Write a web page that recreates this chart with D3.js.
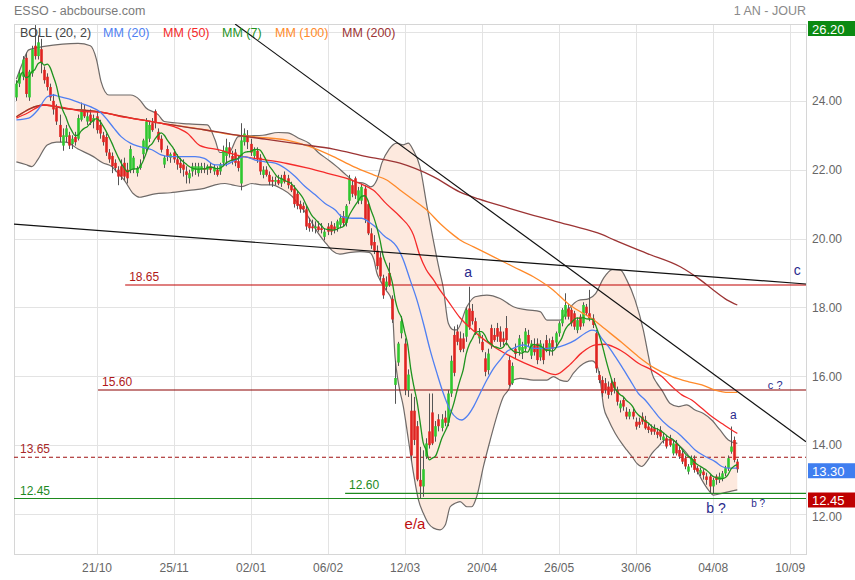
<!DOCTYPE html>
<html><head><meta charset="utf-8">
<script src="https://cdn.jsdelivr.net/npm/d3@7"></script>
<style>
body{margin:0;background:#fff;}
svg{display:block;font-family:"Liberation Sans",Arial,sans-serif;}
</style>
</head><body>
<svg id="c" width="855" height="580"></svg>
<script>
// ---------------- DATA ----------------
const open=[24.1,24.5,24.7,25.25,24.1,24.8,25.6,25.3,25.5,24.9,
24.7,24.4,24.0,23.8,23.3,22.7,22.95,23.0,22.75,22.95,
22.9,23.45,23.75,23.4,23.6,23.4,23.55,23.3,23.0,22.95,
22.5,22.4,22.2,22.0,22.1,22.2,22.0,22.0,22.0,21.9,
22.05,22.45,22.6,22.9,23.35,23.7,23.1,22.9,22.15,22.6,
22.35,22.5,22.3,22.2,22.15,21.95,21.75,21.95,22.0,21.9,
22.0,22.05,22.0,22.1,21.95,22.0,21.95,22.2,22.4,22.65,
22.4,22.5,22.25,21.6,22.8,23.0,22.75,22.4,22.55,22.35,
21.85,22.0,21.85,21.7,21.65,21.7,21.6,21.85,21.75,21.55,
21.45,21.3,21.0,20.95,20.85,20.45,20.35,20.3,20.35,20.3,
20.05,20.35,20.4,20.35,20.3,20.4,20.65,20.45,21.1,21.55,
21.75,21.1,21.1,21.45,21.0,20.15,19.9,19.65,19.45,18.85,
18.6,19.0,18.25,15.75,16.4,17.25,16.95,15.6,15.0,15.0,
14.55,12.99,12.8,13.67,14.4,14.95,14.25,14.75,14.5,14.8,
14.65,15.5,17.2,17.3,17.1,17.1,17.15,17.97,17.9,17.6,
17.1,17.0,16.52,16.18,17.4,17.2,17.4,17.3,17.1,17.4,
16.47,15.8,16.8,16.75,16.7,16.8,17.2,16.6,16.9,16.95,
16.55,16.8,17.05,16.76,17.05,16.98,17.25,17.54,17.73,17.97,
17.93,17.83,17.34,17.73,17.54,18.02,17.83,17.68,17.25,16.04,
15.89,15.8,15.7,15.8,15.84,15.6,15.07,15.31,14.97,14.83,
14.97,14.68,14.68,14.83,14.73,14.54,14.49,14.49,14.39,14.44,
14.15,14.2,14.2,13.76,14.05,13.86,13.76,13.62,13.23,13.42,
13.6,13.33,13.18,13.23,13.09,13.09,12.8,13.09,12.99,13.04,
13.18,13.33,13.81,14.15,13.52];
const high=[24.6,24.9,25.3,25.4,24.9,25.6,26.2,25.9,25.8,25.0,
24.8,24.5,24.2,23.9,23.6,23.2,23.3,23.1,23.0,23.1,
23.6,23.95,23.9,23.7,23.75,23.6,23.7,23.45,23.1,23.05,
22.6,22.5,22.3,22.1,22.3,22.35,22.2,22.7,22.4,22.1,
22.3,22.9,23.5,23.4,23.5,23.75,23.2,23.0,22.4,22.7,
22.5,22.6,22.45,22.35,22.3,22.1,22.0,22.2,22.2,22.2,
22.2,22.2,22.15,22.2,22.15,22.1,22.2,22.7,22.9,22.8,
22.55,22.6,22.4,23.35,23.2,23.15,22.9,22.65,22.65,22.45,
22.1,22.1,21.95,21.8,21.8,21.85,21.85,21.95,21.85,21.65,
21.55,21.4,21.1,21.05,20.95,20.6,20.55,20.5,20.5,20.45,
20.3,20.45,20.5,20.45,20.55,20.7,20.8,21.0,21.85,21.7,
21.8,21.5,21.6,21.55,21.1,20.3,20.1,19.8,19.6,18.95,
18.9,19.3,18.35,16.45,17.0,17.75,17.1,16.2,15.5,15.4,
14.7,13.95,13.85,14.2,15.5,15.5,14.7,14.9,14.9,15.0,
15.6,16.6,17.45,17.5,17.3,17.25,18.0,18.6,18.1,17.7,
17.4,17.2,16.7,16.8,17.5,17.4,17.55,17.45,17.3,17.75,
16.6,16.4,16.95,17.2,17.0,17.4,17.35,17.05,17.1,17.1,
17.05,16.95,17.2,17.1,17.15,17.3,17.6,17.98,18.41,18.1,
18.0,17.9,17.7,17.8,18.15,18.1,18.51,17.8,17.35,16.15,
16.0,15.95,15.85,15.9,15.95,15.7,15.3,15.4,15.1,15.05,
15.05,14.8,14.8,14.95,14.85,14.65,14.6,14.6,14.5,14.55,
14.35,14.3,14.3,14.15,14.15,13.95,13.85,13.7,13.45,13.7,
13.7,13.4,13.35,13.3,13.2,13.15,13.05,13.15,13.2,13.25,
13.4,13.7,14.54,14.25,13.6];
const low=[24.0,24.4,24.6,24.1,24.0,24.7,25.2,25.2,24.8,24.5,
24.3,24.0,23.6,23.3,22.8,22.55,22.8,22.6,22.6,22.7,
22.85,23.4,23.5,23.3,23.3,23.2,23.05,22.9,22.7,22.4,
22.2,21.9,21.95,21.55,21.7,21.7,21.6,21.9,21.9,21.8,
22.0,22.3,22.5,22.8,23.1,23.2,22.8,22.5,22.05,22.25,
22.2,22.2,22.0,21.9,21.8,21.6,21.6,21.8,21.85,21.8,
21.9,21.9,21.85,21.9,21.85,21.8,21.85,22.1,22.1,22.35,
22.15,22.1,21.95,21.4,22.7,22.6,22.4,22.3,22.2,21.85,
21.75,21.8,21.55,21.5,21.55,21.55,21.5,21.6,21.45,21.35,
20.9,20.85,20.75,20.75,20.25,20.2,20.2,20.15,20.2,20.15,
19.95,20.1,20.1,20.15,20.2,20.3,20.35,20.35,21.0,21.2,
21.15,21.0,21.0,20.45,20.1,19.7,19.55,19.1,18.8,18.25,
18.5,18.6,17.55,15.2,16.3,17.1,15.45,15.4,13.55,14.0,
12.95,12.45,12.5,13.6,13.9,14.0,14.1,14.4,14.4,14.55,
14.55,15.4,16.0,16.9,16.7,16.7,17.0,17.35,17.5,17.2,
16.95,16.7,16.0,16.05,16.8,17.0,17.0,16.85,16.9,16.9,
15.7,15.75,16.5,16.6,16.5,16.7,16.85,16.5,16.6,16.35,
16.45,16.35,16.7,16.6,16.6,16.85,17.15,17.45,17.65,17.65,
17.45,17.35,17.25,17.35,17.45,17.75,17.6,17.4,16.1,15.8,
15.4,15.5,15.35,15.45,15.5,15.15,14.95,15.0,14.75,14.75,
14.75,14.45,14.5,14.6,14.45,14.35,14.3,14.3,14.2,14.15,
14.05,13.9,13.95,13.7,13.7,13.6,13.45,13.3,13.15,13.35,
13.2,13.15,13.1,13.0,12.85,12.6,12.6,12.85,12.9,12.95,
13.1,13.25,13.75,13.5,13.2];
const close=[24.5,24.8,25.2,24.2,24.85,25.5,25.3,25.7,25.1,24.6,
24.4,24.1,23.75,23.4,22.95,23.0,23.2,22.7,22.9,22.8,
23.5,23.75,23.55,23.55,23.4,23.5,23.15,23.05,22.8,22.5,
22.3,22.1,22.05,21.8,21.8,21.8,21.75,22.6,22.35,22.05,
22.15,22.85,23.4,23.3,23.15,23.35,22.87,22.58,22.35,22.4,
22.45,22.3,22.15,22.05,22.0,21.85,21.9,22.1,22.1,22.1,
22.1,22.0,22.1,22.0,22.05,21.85,22.15,22.55,22.65,22.45,
22.25,22.2,22.05,22.85,23.05,22.8,22.5,22.6,22.3,21.95,
22.0,21.85,21.65,21.65,21.7,21.6,21.75,21.65,21.55,21.4,
21.0,20.95,20.85,20.85,20.35,20.3,20.3,20.35,20.25,20.25,
20.2,20.2,20.2,20.25,20.5,20.6,20.45,20.95,21.75,21.3,
21.25,21.4,21.5,20.55,20.15,19.8,19.65,19.2,18.9,18.35,
18.75,18.65,17.65,15.95,16.95,17.6,15.6,16.05,13.7,14.15,
13.0,12.8,13.3,14.05,14.0,14.05,14.55,14.55,14.75,14.65,
15.5,16.45,16.1,17.0,16.76,16.8,17.93,17.44,17.6,17.3,
17.25,16.76,16.13,16.66,16.9,17.05,17.15,17.0,17.0,17.05,
15.75,16.3,16.65,17.1,16.85,17.3,16.95,16.95,16.7,16.47,
16.95,16.47,16.76,16.96,16.8,17.25,17.54,17.93,18.07,17.73,
17.54,17.44,17.63,17.44,18.07,17.83,17.68,17.49,16.23,15.89,
15.51,15.6,15.46,15.55,15.65,15.26,15.21,15.12,14.83,14.97,
14.83,14.54,14.59,14.68,14.49,14.44,14.39,14.39,14.3,14.25,
14.25,13.96,14.0,14.05,13.76,13.67,13.52,13.38,13.38,13.62,
13.28,13.23,13.28,13.13,12.99,12.8,12.99,12.99,13.09,13.18,
13.33,13.62,13.96,13.57,13.3];

// indicator readings [day index, value]
const bbUpper=[[0,24.63],[2,25.1],[4,25.48],[9,25.58],[15,25.65],[20,25.67],[24,25.6],[26,25.2],[27.5,24.55],[30,24.17],[37,24.17],[40,24.03],[42,23.8],[46,23.6],[48,23.4],[56,23.33],[62,23.3],[64.5,22.86],[66,22.5],[69,22.5],[72,22.96],[75,22.98],[80,23.0],[85,23.08],[88,23.07],[92,22.9],[95,22.77],[98,22.5],[101,22.3],[104,22.09],[107,21.85],[110,21.65],[113,21.6],[115,21.5],[117,21.7],[118.6,22.19],[121,22.6],[123.5,22.77],[125.5,22.72],[127.2,22.77],[128.8,22.57],[131,22.08],[133.3,20.92],[135.3,19.96],[137.5,19.0],[138.5,18.6],[140.2,17.54],[141.9,17.35],[143,17.35],[146.2,18.02],[148.9,18.31],[152.7,18.36],[157,18.26],[161.3,18.02],[165.7,17.93],[170,17.88],[172.2,17.63],[176.5,17.63],[179.2,17.95],[182.4,18.2],[185.7,18.25],[188,18.4],[190.6,18.85],[193.4,19.1],[196,19.09],[198.1,18.8],[200.8,18.22],[203.5,17.34],[205.2,16.57],[206.3,16.09],[207.9,15.8],[209.5,15.6],[212.2,15.21],[214.9,15.12],[217.6,15.17],[220.3,15.02],[223,14.92],[225.7,14.73],[228.4,14.44],[231.1,14.15],[234,14.05]];
const bbLower=[[0,22.23],[3,22.15],[5,22.09],[7,22.3],[10,22.72],[13,22.8],[16,22.8],[20,22.6],[25,22.38],[28,22.2],[31,22.09],[33,21.9],[35,21.7],[38,21.3],[40,21.2],[45,21.3],[50,21.33],[56,21.4],[61,21.46],[64.5,21.56],[67.7,21.6],[70,21.56],[73.2,21.51],[76.4,21.6],[79.6,21.56],[82.9,21.56],[86,21.45],[89.6,21.22],[91.5,21.0],[93.5,20.8],[96,20.45],[98,20.15],[100.5,19.86],[102.5,19.65],[105,19.55],[108.5,19.6],[111.5,19.62],[114.5,19.6],[116,19.4],[117,19.0],[118,18.8],[120,18.5],[121.8,18.22],[122.9,16.57],[124,15.8],[125.6,15.12],[127.25,14.15],[128.9,13.18],[130.5,12.41],[132.1,12.02],[133.7,11.73],[135.4,11.59],[137.5,11.54],[139.2,11.68],[140.8,12.21],[142.4,12.31],[144,12.36],[146.2,12.21],[147.8,12.21],[149.4,12.5],[151.6,13.38],[153.8,14.15],[155.9,14.83],[158.1,15.41],[159.7,15.6],[161.3,15.89],[163.5,15.94],[167.8,15.89],[172.2,15.89],[174.3,15.99],[176.5,15.89],[178.7,15.85],[180.8,16.09],[183,16.3],[186.8,16.45],[188.5,16.3],[189.5,15.89],[190.6,15.12],[192.2,14.73],[194.4,14.34],[196.5,14.05],[198.1,13.86],[199.8,13.67],[201.4,13.47],[203,13.38],[204.6,13.52],[206.3,13.76],[208.4,13.96],[210.6,14.15],[212.8,14.15],[215.5,13.96],[217.6,13.76],[220.3,13.38],[222.5,12.99],[224.6,12.7],[226.3,12.55],[229,12.6],[234,12.7]];
const mm20=[[0,23.45],[4,23.5],[7,23.74],[10,24.12],[12,24.17],[14,24.12],[18,24.03],[21,23.93],[24,23.83],[27,23.69],[29.5,23.45],[31.7,23.2],[34,22.96],[37,22.77],[40,22.67],[44,22.58],[47,22.43],[50,22.38],[58,22.38],[61,22.33],[64.5,22.14],[67.7,22.14],[71,22.28],[74,22.38],[77.5,22.28],[80.7,22.23],[84,22.19],[87.2,22.04],[90.5,21.8],[93.7,21.51],[97,21.27],[100.2,21.02],[103.5,20.83],[105.6,20.64],[108.9,20.59],[112.1,20.59],[114.3,20.49],[116.4,20.35],[119.7,20.05],[121.3,19.96],[123.5,19.76],[125.6,19.38],[127.8,18.8],[130,18.22],[132.1,17.54],[134.3,16.76],[136.5,16.09],[138.6,15.5],[140.8,15.02],[143,14.78],[144.6,14.73],[146.2,14.83],[148.4,15.12],[150.5,15.5],[152.7,15.89],[154.9,16.23],[157,16.47],[159.2,16.72],[161.3,16.81],[164.6,16.91],[167.8,16.81],[172.2,16.81],[175,16.83],[178.1,16.91],[181.4,17.05],[184.6,17.25],[186.8,17.34],[188.4,17.3],[190,17.1],[192.2,16.86],[194.4,16.57],[196.5,16.28],[199.2,15.89],[201.9,15.5],[204.1,15.31],[206.3,15.07],[208.4,14.83],[211.7,14.54],[214.9,14.34],[218.2,14.05],[220.3,13.86],[223.6,13.67],[226.8,13.52],[229,13.38],[231.1,13.33],[234,13.33]];
const mm50=[[0,23.5],[3.5,23.64],[9,23.88],[15.5,23.8],[22,23.69],[27.4,23.67],[33.9,23.54],[40.3,23.45],[46.8,23.35],[51.2,23.25],[55.5,23.06],[59.6,22.7],[66.1,22.57],[72.6,22.4],[81.3,22.28],[87.8,22.18],[94.3,22.05],[100.7,21.9],[107.2,21.75],[111.5,21.6],[115.9,21.4],[120.2,21.0],[124.5,20.64],[128.9,20.1],[131,19.5],[133,19.1],[135.4,18.8],[137.5,18.5],[140,18.2],[144,17.7],[148,17.35],[152,17.05],[156,16.8],[160,16.6],[165,16.38],[170,16.2],[175,16.05],[179.2,16.3],[183.5,16.68],[187.9,16.91],[191.1,16.93],[194.4,16.83],[197.6,16.67],[201.9,16.38],[206.3,16.18],[209.5,15.99],[212.8,15.7],[216,15.46],[219.2,15.31],[222.5,15.07],[225.7,14.83],[229,14.63],[232.2,14.44],[234,14.34]];
const mm100=[[0,23.54],[9,23.88],[15.5,23.78],[26.3,23.69],[34.9,23.54],[46.8,23.35],[60.9,23.16],[70.4,23.01],[79,22.94],[87.8,22.86],[95.3,22.67],[102.9,22.38],[109.4,22.09],[115.9,21.85],[120.2,21.7],[124.5,21.41],[128.9,21.12],[133.2,20.83],[137.5,20.44],[141.9,20.1],[144,19.96],[148.4,19.76],[154.9,19.47],[161.3,19.18],[167.8,18.89],[174.3,18.5],[179.2,18.1],[183.5,17.85],[186.8,17.68],[191.1,17.37],[196.5,16.98],[201.9,16.57],[207.3,16.23],[212.8,15.99],[218.2,15.84],[222.5,15.75],[226.8,15.6],[231.1,15.53],[234,15.53]];
const mm200=[[0,23.54],[9,23.88],[15.5,23.78],[26.3,23.69],[34.9,23.54],[46.8,23.35],[60.9,23.16],[70.4,23.02],[81.3,22.88],[92.1,22.74],[102.9,22.6],[113.7,22.38],[124.5,22.19],[135.3,21.8],[144,21.35],[150,21.15],[160,20.88],[170,20.62],[180,20.38],[190,20.12],[194,19.96],[204.6,19.57],[215.5,19.18],[222,18.8],[226.3,18.5],[230.6,18.22],[234,18.07]];

// trend lines [[index, price],[index, price]]
const trendLines=[[[71,26.23],[256.3,14.10]],[[-0.78,20.42],[256.3,18.68]]];
// horizontal levels
const levelValues=[18.65,15.60,13.65,12.60,12.45];
const levelStart=[35.3,26.5,-0.78,106.7,-0.78];
const levelColors=["#c00000","#8b0000","#a01010","#1e8a1e","#1e8a1e"];
const levelLabelColors=["#b01818","#b01818","#a82828","#1e8a1e","#1e8a1e"];
const levelDashed=[false,false,true,false,false];
// wave annotations
const noteText=["a","c","c ?","a","b ?","b ?","e/a"];
const noteIdx=[146.6,253.5,246.3,232.7,227.1,240.8,129.4];
const noteVal=[18.88,18.94,15.63,14.75,12.03,12.2,11.56];
const noteSize=[14,14,11,12,14,10,15];
// axis
const yGrid=[12,14,16,18,20,22,24,26];
const yTicks=[12,14,16,18,20,22,24];
const xTickIdx=[26,51,76,101,126,151,176,201,226,251];
const xTickLabels=["21/10","25/11","02/01","06/02","12/03","20/04","26/05","30/06","04/08","10/09"];
const legendLabels=["BOLL (20, 2)","MM (20)","MM (50)","MM (7)","MM (100)","MM (200)"];
const highValue=26.20, lastValue=13.30, supportValue=12.45;

// ---------------- CHART ----------------
const L=14,R=806,T=24,B=554;
const svg=d3.select("#c");
const x=d3.scaleLinear().domain([-0.78,256.3]).range([L,R]);
const y=d3.scaleLinear().domain([10.838,26.232]).range([B,T]);

svg.append("rect").attr("width",855).attr("height",580).attr("fill","#fff");

// grid
const grid=svg.append("g");
yGrid.forEach(v=>grid.append("line").attr("x1",L).attr("x2",R)
  .attr("y1",Math.round(y(v))+0.5).attr("y2",Math.round(y(v))+0.5).attr("stroke","#e3e3e3"));
xTickIdx.forEach(i=>grid.append("line").attr("y1",T).attr("y2",B)
  .attr("x1",Math.round(x(i))+0.5).attr("x2",Math.round(x(i))+0.5).attr("stroke","#e3e3e3"));
grid.append("rect").attr("x",L+0.5).attr("y",T+0.5).attr("width",R-L).attr("height",B-T)
  .attr("fill","none").attr("stroke","#d6d6d6");

svg.append("clipPath").attr("id","clip").append("rect")
  .attr("x",L).attr("y",T).attr("width",R-L).attr("height",B-T);
const g=svg.append("g").attr("clip-path","url(#clip)");

const line=d3.line().x(d=>x(d[0])).y(d=>y(d[1])).curve(d3.curveMonotoneX);

// Bollinger fill
const upPath=line(bbUpper);
const loPath=line(bbLower.slice().reverse());
g.append("path").attr("d",upPath+loPath.replace(/^M/,"L")+"Z")
  .attr("fill","#fde9de").attr("stroke","none");
[bbUpper,bbLower].forEach(s=>g.append("path").attr("d",line(s))
  .attr("fill","none").attr("stroke","#6f6a68").attr("stroke-width",1.2));

// level lines
levelValues.forEach((v,k)=>{
  g.append("line").attr("x1",x(levelStart[k])).attr("x2",R)
   .attr("y1",y(v)).attr("y2",y(v))
   .attr("stroke",levelColors[k]).attr("stroke-width",1.1)
   .attr("stroke-dasharray",levelDashed[k]?"4,3":null);
});

// candles
const cg=g.append("g");
close.forEach((c,i)=>{
  const xi=Math.round(x(i))+0.5;
  cg.append("line").attr("x1",xi).attr("x2",xi).attr("y1",y(high[i])).attr("y2",y(low[i]))
    .attr("stroke","#555").attr("stroke-width",1);
});
close.forEach((c,i)=>{
  const o=open[i], up=c>=o;
  const y0=y(Math.max(o,c)), y1=y(Math.min(o,c));
  cg.append("rect").attr("x",Math.round(x(i))-0.8).attr("width",2.6)
    .attr("y",y0).attr("height",Math.max(1,y1-y0))
    .attr("fill",up?"#2fc72f":"#df2320");
});

// moving averages
const ma7=close.map((c,i)=>{const s=close.slice(Math.max(0,i-6),i+1);return [i,d3.mean(s)];});
[[mm100,"#ff8a2a"],[mm200,"#9c3434"],[mm50,"#f52a2a"],[mm20,"#4f7ff2"],[ma7,"#1f931f"]].forEach(([s,col])=>{
  g.append("path").attr("d",line(s)).attr("fill","none").attr("stroke",col).attr("stroke-width",1.3);
});

// trend lines
const lin=d3.line().x(d=>x(d[0])).y(d=>y(d[1]));
trendLines.forEach(t=>g.append("path").attr("d",lin(t)).attr("stroke","#111").attr("stroke-width",1.2).attr("fill","none"));

// level labels
levelValues.forEach((v,k)=>{
  svg.append("text").attr("x",x(levelStart[k])+ (levelStart[k]<0?6:4)).attr("y",y(v)-4)
    .attr("font-size",12).attr("fill",levelLabelColors[k]).text(v.toFixed(2));
});

// annotations
noteText.forEach((t,k)=>{
  svg.append("text").attr("x",x(noteIdx[k])).attr("y",y(noteVal[k]))
    .attr("text-anchor","middle").attr("font-size",noteSize[k])
    .attr("fill",t==="e/a"?"#c01010":"#2a2a8c").text(t);
});

// x axis
const xa=d3.axisBottom(x).tickValues(xTickIdx).tickFormat((d,k)=>xTickLabels[k]).tickSize(0).tickPadding(9);
const xg=svg.append("g").attr("transform",`translate(0,${B})`).call(xa);
xg.select(".domain").remove();
xg.selectAll("text").attr("font-size",12).attr("fill","#666")
  .attr("font-family","'Liberation Sans Narrow','Liberation Sans',Arial,sans-serif");

// y axis
const ya=d3.axisRight(y).tickValues(yTicks).tickFormat(d=>d.toFixed(2)).tickSize(0).tickPadding(6);
const yg=svg.append("g").attr("transform",`translate(${R},0)`).call(ya);
yg.select(".domain").remove();
yg.selectAll("text").attr("font-size",12).attr("fill","#666").attr("font-family","'Liberation Sans',Arial,sans-serif")
  .attr("dy",(d)=>d===12?"0.55em":"0.32em");

// value boxes
[[highValue,"#0b8a12"],[lastValue,"#3f7ef0"],[supportValue,"#bf0000"]].forEach(([v,col])=>{
  const top=Math.max(21,y(v)-6);
  svg.append("rect").attr("x",R+2).attr("y",top).attr("width",855-R-2).attr("height",15).attr("fill",col);
  svg.append("text").attr("x",R+6).attr("y",top+12.5).attr("font-size",13).attr("fill","#fff").text(v.toFixed(2));
});

// header & legend
svg.append("text").attr("x",14).attr("y",15).attr("font-size",12.5).attr("fill","#7a7a7a").text("ESSO - abcbourse.com");
svg.append("text").attr("x",R).attr("y",15).attr("text-anchor","end").attr("font-size",12.5).attr("fill","#8a8a8a").text("1 AN - JOUR");
const legX=[20,103,163,222,275,342];
const legC=["#444","#4f7ff2","#f52a2a","#1f931f","#ff8a2a","#9c3434"];
legendLabels.forEach((t,k)=>svg.append("text").attr("x",legX[k]).attr("y",37).attr("font-size",12.5).attr("fill",legC[k]).text(t));
</script>
</body></html>
